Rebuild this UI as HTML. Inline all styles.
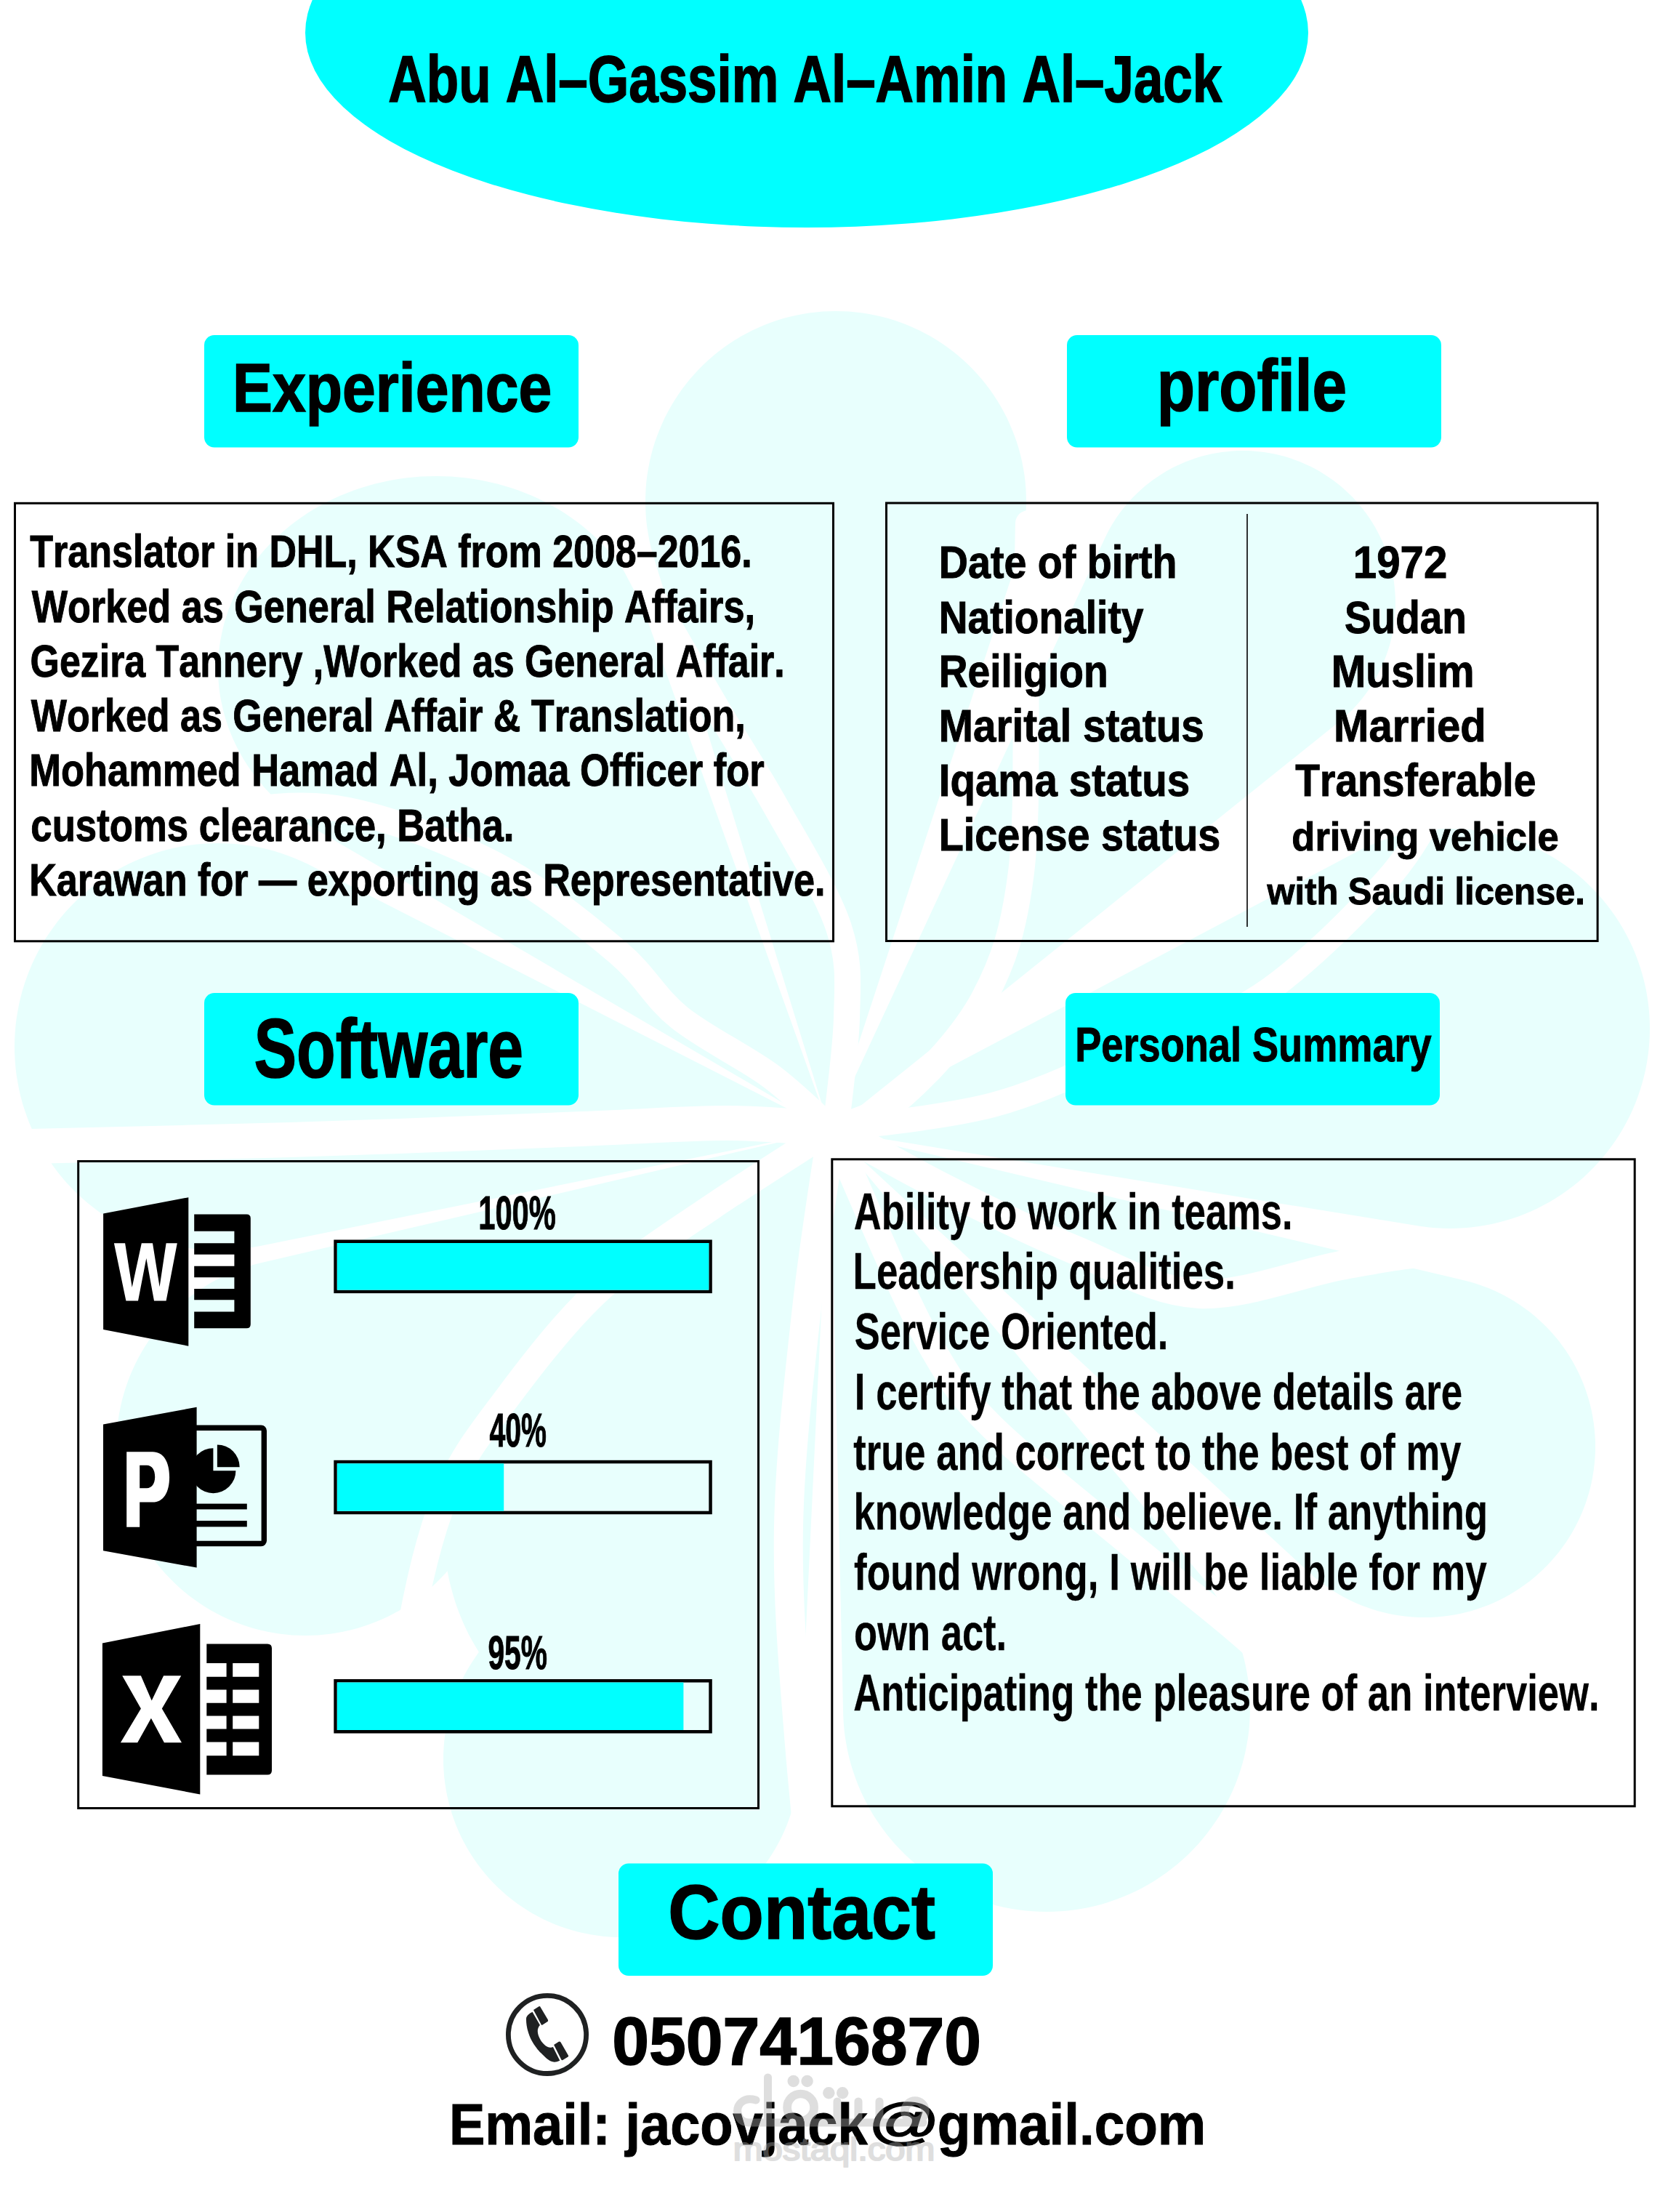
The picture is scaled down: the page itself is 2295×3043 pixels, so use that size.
<!DOCTYPE html><html><head><meta charset="utf-8"><title>CV</title><style>html,body{margin:0;padding:0;background:#fff;overflow:hidden;}svg{display:block}text{font-family:"Liberation Sans",sans-serif;font-weight:bold;font-kerning:none;white-space:pre}</style></head><body>
<svg width="2295" height="3043" viewBox="0 0 2295 3043">
<rect width="2295" height="3043" fill="#fff"/>
<g fill="#e8fffd">
<path d="M888.0 690.0 L888.2 680.9 L888.6 671.7 L889.4 662.6 L890.5 653.5 L892.0 644.5 L893.7 635.5 L895.8 626.6 L898.1 617.8 L900.8 609.0 L903.8 600.4 L907.1 591.9 L910.7 583.4 L914.5 575.1 L918.7 567.0 L923.1 559.0 L927.8 551.2 L932.8 543.5 L938.0 536.0 L943.5 528.7 L949.3 521.6 L955.3 514.7 L961.5 508.0 L968.0 501.5 L974.7 495.3 L981.6 489.3 L988.7 483.5 L996.0 478.0 L1003.5 472.8 L1011.2 467.8 L1019.0 463.1 L1027.0 458.7 L1035.1 454.5 L1043.4 450.7 L1051.9 447.1 L1060.4 443.8 L1069.0 440.8 L1077.8 438.1 L1086.6 435.8 L1095.5 433.7 L1104.5 432.0 L1113.5 430.5 L1122.6 429.4 L1131.7 428.6 L1140.9 428.2 L1150.0 428.0 L1159.1 428.2 L1168.3 428.6 L1177.4 429.4 L1186.5 430.5 L1195.5 432.0 L1204.5 433.7 L1213.4 435.8 L1222.2 438.1 L1231.0 440.8 L1239.6 443.8 L1248.1 447.1 L1256.6 450.7 L1264.9 454.5 L1273.0 458.7 L1281.0 463.1 L1288.8 467.8 L1296.5 472.8 L1304.0 478.0 L1311.3 483.5 L1318.4 489.3 L1325.3 495.3 L1332.0 501.5 L1338.5 508.0 L1344.7 514.7 L1350.7 521.6 L1356.5 528.7 L1362.0 536.0 L1367.2 543.5 L1372.2 551.2 L1376.9 559.0 L1381.3 567.0 L1385.5 575.1 L1389.3 583.4 L1392.9 591.9 L1396.2 600.4 L1399.2 609.0 L1401.9 617.8 L1404.2 626.6 L1406.3 635.5 L1408.0 644.5 L1409.5 653.5 L1410.6 662.6 L1411.4 671.7 L1411.8 680.9 L1412.0 690.0 L1411.8 699.1 L1411.4 708.3 L1410.6 717.4 L1409.5 726.5 L1408.0 735.5 L1406.3 744.5 L1404.2 753.4 L1401.9 762.2 L1399.2 771.0 L1142.0 1555.0 L900.8 771.0 L898.1 762.2 L895.8 753.4 L893.7 744.5 L892.0 735.5 L890.5 726.5 L889.4 717.4 L888.6 708.3 L888.2 699.1 Z"/>
<path d="M1142.0 1555.0 L1521.3 737.9 L1524.6 731.4 L1528.1 725.0 L1531.9 718.7 L1535.9 712.6 L1540.1 706.6 L1544.5 700.7 L1549.1 695.0 L1553.9 689.5 L1558.9 684.1 L1564.1 678.9 L1569.5 673.9 L1575.0 669.1 L1580.7 664.5 L1586.6 660.1 L1592.6 655.9 L1598.7 651.9 L1605.0 648.1 L1611.4 644.6 L1617.9 641.3 L1624.6 638.2 L1631.3 635.3 L1638.2 632.7 L1645.1 630.3 L1652.1 628.1 L1659.2 626.2 L1666.3 624.6 L1673.5 623.2 L1680.8 622.0 L1688.0 621.2 L1695.4 620.5 L1702.7 620.1 L1710.0 620.0 L1717.3 620.1 L1724.6 620.5 L1732.0 621.2 L1739.2 622.0 L1746.5 623.2 L1753.7 624.6 L1760.8 626.2 L1767.9 628.1 L1774.9 630.3 L1781.8 632.7 L1788.7 635.3 L1795.4 638.2 L1802.1 641.3 L1808.6 644.6 L1815.0 648.1 L1821.3 651.9 L1827.4 655.9 L1833.4 660.1 L1839.3 664.5 L1845.0 669.1 L1850.5 673.9 L1855.9 678.9 L1861.1 684.1 L1866.1 689.5 L1870.9 695.0 L1875.5 700.7 L1879.9 706.6 L1884.1 712.6 L1888.1 718.7 L1891.9 725.0 L1895.4 731.4 L1898.7 737.9 L1901.8 744.6 L1904.7 751.3 L1907.3 758.2 L1909.7 765.1 L1911.9 772.1 L1913.8 779.2 L1915.4 786.3 L1916.8 793.5 L1918.0 800.8 L1918.8 808.0 L1919.5 815.4 L1919.9 822.7 L1920.0 830.0 L1919.9 837.3 L1919.5 844.6 L1918.8 852.0 L1918.0 859.2 L1916.8 866.5 L1915.4 873.7 L1913.8 880.8 L1911.9 887.9 L1909.7 894.9 L1907.3 901.8 L1904.7 908.7 L1901.8 915.4 L1898.7 922.1 L1895.4 928.6 L1891.9 935.0 L1888.1 941.3 L1884.1 947.4 L1879.9 953.4 L1875.5 959.3 L1870.9 965.0 L1866.1 970.5 L1861.1 975.9 L1855.9 981.1 L1850.5 986.1 L1845.0 990.9 L1839.3 995.5 Z"/>
<path d="M1142.0 1555.0 L1865.9 1172.2 L1874.4 1167.8 L1883.1 1163.8 L1892.0 1160.0 L1900.9 1156.6 L1910.0 1153.5 L1919.2 1150.7 L1928.5 1148.2 L1937.8 1146.0 L1947.2 1144.2 L1956.7 1142.7 L1966.3 1141.5 L1975.8 1140.7 L1985.4 1140.2 L1995.0 1140.0 L2004.6 1140.2 L2014.2 1140.7 L2023.7 1141.5 L2033.3 1142.7 L2042.8 1144.2 L2052.2 1146.0 L2061.5 1148.2 L2070.8 1150.7 L2080.0 1153.5 L2089.1 1156.6 L2098.0 1160.0 L2106.9 1163.8 L2115.6 1167.8 L2124.1 1172.2 L2132.5 1176.8 L2140.7 1181.8 L2148.8 1187.0 L2156.6 1192.5 L2164.3 1198.3 L2171.8 1204.3 L2179.0 1210.6 L2186.0 1217.2 L2192.8 1224.0 L2199.4 1231.0 L2205.7 1238.2 L2211.7 1245.7 L2217.5 1253.4 L2223.0 1261.2 L2228.2 1269.3 L2233.2 1277.5 L2237.8 1285.9 L2242.2 1294.4 L2246.2 1303.1 L2250.0 1312.0 L2253.4 1320.9 L2256.5 1330.0 L2259.3 1339.2 L2261.8 1348.5 L2264.0 1357.8 L2265.8 1367.2 L2267.3 1376.7 L2268.5 1386.3 L2269.3 1395.8 L2269.8 1405.4 L2270.0 1415.0 L2269.8 1424.6 L2269.3 1434.2 L2268.5 1443.7 L2267.3 1453.3 L2265.8 1462.8 L2264.0 1472.2 L2261.8 1481.5 L2259.3 1490.8 L2256.5 1500.0 L2253.4 1509.1 L2250.0 1518.0 L2246.2 1526.9 L2242.2 1535.6 L2237.8 1544.1 L2233.2 1552.5 L2228.2 1560.7 L2223.0 1568.8 L2217.5 1576.6 L2211.7 1584.3 L2205.7 1591.8 L2199.4 1599.0 L2192.8 1606.0 L2186.0 1612.8 L2179.0 1619.4 L2171.8 1625.7 L2164.3 1631.7 L2156.6 1637.5 L2148.8 1643.0 L2140.7 1648.2 L2132.5 1653.2 L2124.1 1657.8 L2115.6 1662.2 L2106.9 1666.2 L2098.0 1670.0 L2089.1 1673.4 L2080.0 1676.5 L2070.8 1679.3 L2061.5 1681.8 L2052.2 1684.0 L2042.8 1685.8 L2033.3 1687.3 L2023.7 1688.5 L2014.2 1689.3 L2004.6 1689.8 L1995.0 1690.0 L1985.4 1689.8 L1975.8 1689.3 L1966.3 1688.5 L1956.7 1687.3 L1947.2 1685.8 Z"/>
<path d="M1142.0 1555.0 L2008.9 1760.1 L2016.9 1762.0 L2024.8 1764.1 L2032.6 1766.5 L2040.4 1769.2 L2048.0 1772.1 L2055.6 1775.3 L2063.0 1778.8 L2070.3 1782.5 L2077.5 1786.5 L2084.5 1790.7 L2091.4 1795.2 L2098.1 1799.9 L2104.7 1804.8 L2111.1 1810.0 L2117.2 1815.4 L2123.2 1821.0 L2129.0 1826.8 L2134.6 1832.8 L2140.0 1838.9 L2145.2 1845.3 L2150.1 1851.9 L2154.8 1858.6 L2159.3 1865.5 L2163.5 1872.5 L2167.5 1879.7 L2171.2 1887.0 L2174.7 1894.4 L2177.9 1902.0 L2180.8 1909.6 L2183.5 1917.4 L2185.9 1925.2 L2188.0 1933.1 L2189.9 1941.1 L2191.4 1949.2 L2192.7 1957.3 L2193.7 1965.4 L2194.4 1973.6 L2194.9 1981.8 L2195.0 1990.0 L2194.9 1998.2 L2194.4 2006.4 L2193.7 2014.6 L2192.7 2022.7 L2191.4 2030.8 L2189.9 2038.9 L2188.0 2046.9 L2185.9 2054.8 L2183.5 2062.6 L2180.8 2070.4 L2177.9 2078.0 L2174.7 2085.6 L2171.2 2093.0 L2167.5 2100.3 L2163.5 2107.5 L2159.3 2114.5 L2154.8 2121.4 L2150.1 2128.1 L2145.2 2134.7 L2140.0 2141.1 L2134.6 2147.2 L2129.0 2153.2 L2123.2 2159.0 L2117.2 2164.6 L2111.1 2170.0 L2104.7 2175.2 L2098.1 2180.1 L2091.4 2184.8 L2084.5 2189.3 L2077.5 2193.5 L2070.3 2197.5 L2063.0 2201.2 L2055.6 2204.7 L2048.0 2207.9 L2040.4 2210.8 L2032.6 2213.5 L2024.8 2215.9 L2016.9 2218.0 L2008.9 2219.9 L2000.8 2221.4 L1992.7 2222.7 L1984.6 2223.7 L1976.4 2224.4 L1968.2 2224.9 L1960.0 2225.0 L1951.8 2224.9 L1943.6 2224.4 L1935.4 2223.7 L1927.3 2222.7 L1919.2 2221.4 L1911.1 2219.9 L1903.1 2218.0 L1895.2 2215.9 L1887.4 2213.5 L1879.6 2210.8 L1872.0 2207.9 L1864.4 2204.7 L1857.0 2201.2 L1849.7 2197.5 L1842.5 2193.5 L1835.5 2189.3 L1828.6 2184.8 L1821.9 2180.1 L1815.3 2175.2 L1808.9 2170.0 L1802.8 2164.6 Z"/>
<path d="M1142.0 1555.0 L1654.5 2170.0 L1660.6 2177.6 L1666.5 2185.4 L1672.1 2193.4 L1677.5 2201.6 L1682.5 2210.0 L1687.2 2218.5 L1691.7 2227.3 L1695.8 2236.1 L1699.6 2245.1 L1703.1 2254.2 L1706.3 2263.5 L1709.2 2272.8 L1711.7 2282.3 L1713.9 2291.8 L1715.7 2301.4 L1717.3 2311.0 L1718.5 2320.7 L1719.3 2330.5 L1719.8 2340.2 L1720.0 2350.0 L1719.8 2359.8 L1719.3 2369.5 L1718.5 2379.3 L1717.3 2389.0 L1715.7 2398.6 L1713.9 2408.2 L1711.7 2417.7 L1709.2 2427.2 L1706.3 2436.5 L1703.1 2445.8 L1699.6 2454.9 L1695.8 2463.9 L1691.7 2472.7 L1687.2 2481.5 L1682.5 2490.0 L1677.5 2498.4 L1672.1 2506.6 L1666.5 2514.6 L1660.6 2522.4 L1654.5 2530.0 L1648.1 2537.4 L1641.4 2544.5 L1634.5 2551.4 L1627.4 2558.1 L1620.0 2564.5 L1612.4 2570.6 L1604.6 2576.5 L1596.6 2582.1 L1588.4 2587.5 L1580.0 2592.5 L1571.5 2597.2 L1562.7 2601.7 L1553.9 2605.8 L1544.9 2609.6 L1535.8 2613.1 L1526.5 2616.3 L1517.2 2619.2 L1507.7 2621.7 L1498.2 2623.9 L1488.6 2625.7 L1479.0 2627.3 L1469.3 2628.5 L1459.5 2629.3 L1449.8 2629.8 L1440.0 2630.0 L1430.2 2629.8 L1420.5 2629.3 L1410.7 2628.5 L1401.0 2627.3 L1391.4 2625.7 L1381.8 2623.9 L1372.3 2621.7 L1362.8 2619.2 L1353.5 2616.3 L1344.2 2613.1 L1335.1 2609.6 L1326.1 2605.8 L1317.3 2601.7 L1308.5 2597.2 L1300.0 2592.5 L1291.6 2587.5 L1283.4 2582.1 L1275.4 2576.5 L1267.6 2570.6 L1260.0 2564.5 L1252.6 2558.1 L1245.5 2551.4 L1238.6 2544.5 L1231.9 2537.4 L1225.5 2530.0 L1219.4 2522.4 L1213.5 2514.6 L1207.9 2506.6 L1202.5 2498.4 L1197.5 2490.0 L1192.8 2481.5 L1188.3 2472.7 L1184.2 2463.9 L1180.4 2454.9 L1176.9 2445.8 L1173.7 2436.5 L1170.8 2427.2 L1168.3 2417.7 L1166.1 2408.2 L1164.3 2398.6 L1162.7 2389.0 L1161.5 2379.3 L1160.7 2369.5 L1160.2 2359.8 Z"/>
<path d="M610.0 2420.0 L610.1 2411.4 L610.6 2402.9 L611.3 2394.4 L612.4 2385.9 L613.7 2377.5 L615.4 2369.1 L617.3 2360.7 L619.5 2352.5 L622.0 2344.3 L624.8 2336.2 L627.8 2328.2 L631.2 2320.3 L634.8 2312.6 L638.7 2305.0 L642.8 2297.5 L647.2 2290.2 L651.9 2283.0 L1142.0 1555.0 L1099.9 2428.6 L1099.4 2437.1 L1098.7 2445.6 L1097.6 2454.1 L1096.3 2462.5 L1094.6 2470.9 L1092.7 2479.3 L1090.5 2487.5 L1088.0 2495.7 L1085.2 2503.8 L1082.2 2511.8 L1078.8 2519.7 L1075.2 2527.4 L1071.3 2535.0 L1067.2 2542.5 L1062.8 2549.8 L1058.1 2557.0 L1053.2 2564.0 L1048.1 2570.8 L1042.7 2577.5 L1037.1 2583.9 L1031.2 2590.2 L1025.2 2596.2 L1018.9 2602.1 L1012.5 2607.7 L1005.8 2613.1 L999.0 2618.2 L992.0 2623.1 L984.8 2627.8 L977.5 2632.2 L970.0 2636.3 L962.4 2640.2 L954.7 2643.8 L946.8 2647.2 L938.8 2650.2 L930.7 2653.0 L922.5 2655.5 L914.3 2657.7 L905.9 2659.6 L897.5 2661.3 L889.1 2662.6 L880.6 2663.7 L872.1 2664.4 L863.6 2664.9 L855.0 2665.0 L846.4 2664.9 L837.9 2664.4 L829.4 2663.7 L820.9 2662.6 L812.5 2661.3 L804.1 2659.6 L795.7 2657.7 L787.5 2655.5 L779.3 2653.0 L771.2 2650.2 L763.2 2647.2 L755.3 2643.8 L747.6 2640.2 L740.0 2636.3 L732.5 2632.2 L725.2 2627.8 L718.0 2623.1 L711.0 2618.2 L704.2 2613.1 L697.5 2607.7 L691.1 2602.1 L684.8 2596.2 L678.8 2590.2 L672.9 2583.9 L667.3 2577.5 L661.9 2570.8 L656.8 2564.0 L651.9 2557.0 L647.2 2549.8 L642.8 2542.5 L638.7 2535.0 L634.8 2527.4 L631.2 2519.7 L627.8 2511.8 L624.8 2503.8 L622.0 2495.7 L619.5 2487.5 L617.3 2479.3 L615.4 2470.9 L613.7 2462.5 L612.4 2454.1 L611.3 2445.6 L610.6 2437.1 L610.1 2428.6 Z"/>
<path d="M160.0 1990.0 L160.2 1980.9 L160.6 1971.9 L161.4 1962.8 L162.5 1953.8 L163.9 1944.9 L165.7 1935.9 L167.7 1927.1 L170.1 1918.3 L172.7 1909.7 L175.7 1901.1 L178.9 1892.6 L182.5 1884.2 L186.3 1876.0 L190.4 1867.9 L194.8 1860.0 L199.5 1852.2 L204.5 1844.6 L209.7 1837.2 L215.1 1829.9 L220.8 1822.9 L226.8 1816.0 L233.0 1809.4 L239.4 1803.0 L246.0 1796.8 L252.9 1790.8 L259.9 1785.1 L267.2 1779.7 L274.6 1774.5 L282.2 1769.5 L290.0 1764.8 L297.9 1760.4 L306.0 1756.3 L314.2 1752.5 L322.6 1748.9 L331.1 1745.7 L339.7 1742.7 L348.3 1740.1 L357.1 1737.7 L1142.0 1555.0 L619.2 2157.1 L613.2 2164.0 L607.0 2170.6 L600.6 2177.0 L594.0 2183.2 L587.1 2189.2 L580.1 2194.9 L572.8 2200.3 L565.4 2205.5 L557.8 2210.5 L550.0 2215.2 L542.1 2219.6 L534.0 2223.7 L525.8 2227.5 L517.4 2231.1 L508.9 2234.3 L500.3 2237.3 L491.7 2239.9 L482.9 2242.3 L474.1 2244.3 L465.1 2246.1 L456.2 2247.5 L447.2 2248.6 L438.1 2249.4 L429.1 2249.8 L420.0 2250.0 L410.9 2249.8 L401.9 2249.4 L392.8 2248.6 L383.8 2247.5 L374.9 2246.1 L365.9 2244.3 L357.1 2242.3 L348.3 2239.9 L339.7 2237.3 L331.1 2234.3 L322.6 2231.1 L314.2 2227.5 L306.0 2223.7 L297.9 2219.6 L290.0 2215.2 L282.2 2210.5 L274.6 2205.5 L267.2 2200.3 L259.9 2194.9 L252.9 2189.2 L246.0 2183.2 L239.4 2177.0 L233.0 2170.6 L226.8 2164.0 L220.8 2157.1 L215.1 2150.1 L209.7 2142.8 L204.5 2135.4 L199.5 2127.8 L194.8 2120.0 L190.4 2112.1 L186.3 2104.0 L182.5 2095.8 L178.9 2087.4 L175.7 2078.9 L172.7 2070.3 L170.1 2061.7 L167.7 2052.9 L165.7 2044.1 L163.9 2035.1 L162.5 2026.2 L161.4 2017.2 L160.6 2008.1 L160.2 1999.1 Z"/>
<path d="M610.0 2100.0 L610.1 2090.2 L610.6 2080.5 L611.3 2070.7 L612.2 2061.0 L613.5 2051.4 L615.0 2041.8 L616.8 2032.3 L618.9 2022.8 L621.3 2013.5 L623.9 2004.2 L626.7 1995.1 L629.9 1986.1 L633.3 1977.3 L636.9 1968.5 L640.8 1960.0 L644.9 1951.6 L649.3 1943.4 L653.9 1935.4 L658.8 1927.6 L663.8 1920.0 L669.1 1912.6 L674.6 1905.5 L680.2 1898.6 L686.1 1891.9 L692.2 1885.5 L698.4 1879.4 L704.8 1873.5 L711.4 1867.9 L718.1 1862.5 L1142.0 1555.0 L1067.8 2139.0 L1066.5 2148.6 L1065.0 2158.2 L1063.2 2167.7 L1061.1 2177.2 L1058.7 2186.5 L1056.1 2195.8 L1053.3 2204.9 L1050.1 2213.9 L1046.7 2222.7 L1043.1 2231.5 L1039.2 2240.0 L1035.1 2248.4 L1030.7 2256.6 L1026.1 2264.6 L1021.2 2272.4 L1016.2 2280.0 L1010.9 2287.4 L1005.4 2294.5 L999.8 2301.4 L993.9 2308.1 L987.8 2314.5 L981.6 2320.6 L975.2 2326.5 L968.6 2332.1 L961.9 2337.5 L955.0 2342.5 L948.0 2347.2 L940.8 2351.7 L933.5 2355.8 L926.2 2359.6 L918.7 2363.1 L911.1 2366.3 L903.4 2369.2 L895.6 2371.7 L887.8 2373.9 L879.9 2375.7 L872.0 2377.3 L864.0 2378.5 L856.0 2379.3 L848.0 2379.8 L840.0 2380.0 L832.0 2379.8 L824.0 2379.3 L816.0 2378.5 L808.0 2377.3 L800.1 2375.7 L792.2 2373.9 L784.4 2371.7 L776.6 2369.2 L768.9 2366.3 L761.3 2363.1 L753.8 2359.6 L746.5 2355.8 L739.2 2351.7 L732.0 2347.2 L725.0 2342.5 L718.1 2337.5 L711.4 2332.1 L704.8 2326.5 L698.4 2320.6 L692.2 2314.5 L686.1 2308.1 L680.2 2301.4 L674.6 2294.5 L669.1 2287.4 L663.8 2280.0 L658.8 2272.4 L653.9 2264.6 L649.3 2256.6 L644.9 2248.4 L640.8 2240.0 L636.9 2231.5 L633.3 2222.7 L629.9 2213.9 L626.7 2204.9 L623.9 2195.8 L621.3 2186.5 L618.9 2177.2 L616.8 2167.7 L615.0 2158.2 L613.5 2148.6 L612.2 2139.0 L611.3 2129.3 L610.6 2119.5 L610.1 2109.8 Z"/>
<path d="M20.0 1440.0 L20.2 1430.2 L20.7 1420.5 L21.5 1410.7 L22.7 1401.0 L24.3 1391.4 L26.1 1381.8 L28.3 1372.3 L30.8 1362.8 L33.7 1353.5 L36.9 1344.2 L40.4 1335.1 L44.2 1326.1 L48.3 1317.3 L52.8 1308.5 L57.5 1300.0 L62.5 1291.6 L67.9 1283.4 L73.5 1275.4 L79.4 1267.6 L85.5 1260.0 L91.9 1252.6 L98.6 1245.5 L105.5 1238.6 L112.6 1231.9 L120.0 1225.5 L127.6 1219.4 L135.4 1213.5 L143.4 1207.9 L151.6 1202.5 L160.0 1197.5 L168.5 1192.8 L177.3 1188.3 L186.1 1184.2 L195.1 1180.4 L204.2 1176.9 L213.5 1173.7 L222.8 1170.8 L232.3 1168.3 L241.8 1166.1 L251.4 1164.3 L261.0 1162.7 L270.7 1161.5 L280.5 1160.7 L290.2 1160.2 L300.0 1160.0 L309.8 1160.2 L319.5 1160.7 L329.3 1161.5 L339.0 1162.7 L348.6 1164.3 L358.2 1166.1 L367.7 1168.3 L377.2 1170.8 L386.5 1173.7 L395.8 1176.9 L404.9 1180.4 L413.9 1184.2 L422.7 1188.3 L1142.0 1555.0 L358.2 1713.9 L348.6 1715.7 L339.0 1717.3 L329.3 1718.5 L319.5 1719.3 L309.8 1719.8 L300.0 1720.0 L290.2 1719.8 L280.5 1719.3 L270.7 1718.5 L261.0 1717.3 L251.4 1715.7 L241.8 1713.9 L232.3 1711.7 L222.8 1709.2 L213.5 1706.3 L204.2 1703.1 L195.1 1699.6 L186.1 1695.8 L177.3 1691.7 L168.5 1687.2 L160.0 1682.5 L151.6 1677.5 L143.4 1672.1 L135.4 1666.5 L127.6 1660.6 L120.0 1654.5 L112.6 1648.1 L105.5 1641.4 L98.6 1634.5 L91.9 1627.4 L85.5 1620.0 L79.4 1612.4 L73.5 1604.6 L67.9 1596.6 L62.5 1588.4 L57.5 1580.0 L52.8 1571.5 L48.3 1562.7 L44.2 1553.9 L40.4 1544.9 L36.9 1535.8 L33.7 1526.5 L30.8 1517.2 L28.3 1507.7 L26.1 1498.2 L24.3 1488.6 L22.7 1479.0 L21.5 1469.3 L20.7 1459.5 L20.2 1449.8 Z"/>
<path d="M300.0 920.0 L300.2 910.8 L300.7 901.5 L301.6 892.3 L302.9 883.1 L304.6 874.0 L306.6 864.9 L308.9 855.9 L311.6 847.0 L314.7 838.1 L318.1 829.4 L321.8 820.7 L325.9 812.2 L330.4 803.8 L335.1 795.6 L340.2 787.5 L345.6 779.6 L351.3 771.8 L357.3 764.2 L363.6 756.8 L370.2 749.7 L377.1 742.7 L384.2 735.9 L391.6 729.4 L399.3 723.1 L407.2 717.0 L415.3 711.2 L423.7 705.6 L432.2 700.3 L441.0 695.3 L450.0 690.5 L459.2 686.0 L468.5 681.8 L478.0 677.9 L487.6 674.3 L497.4 671.0 L507.3 668.0 L517.3 665.3 L527.4 662.9 L537.6 660.8 L547.9 659.0 L558.2 657.6 L568.6 656.5 L579.1 655.6 L589.5 655.2 L600.0 655.0 L610.5 655.2 L620.9 655.6 L631.4 656.5 L641.8 657.6 L652.1 659.0 L662.4 660.8 L672.6 662.9 L682.7 665.3 L692.7 668.0 L702.6 671.0 L712.4 674.3 L722.0 677.9 L731.5 681.8 L740.8 686.0 L750.0 690.5 L759.0 695.3 L767.8 700.3 L776.3 705.6 L784.7 711.2 L792.8 717.0 L800.7 723.1 L808.4 729.4 L815.8 735.9 L822.9 742.7 L829.8 749.7 L836.4 756.8 L842.7 764.2 L848.7 771.8 L854.4 779.6 L859.8 787.5 L864.9 795.6 L869.6 803.8 L874.1 812.2 L878.2 820.7 L881.9 829.4 L885.3 838.1 L1142.0 1555.0 L432.2 1139.7 L423.7 1134.4 L415.3 1128.8 L407.2 1123.0 L399.3 1116.9 L391.6 1110.6 L384.2 1104.1 L377.1 1097.3 L370.2 1090.3 L363.6 1083.2 L357.3 1075.8 L351.3 1068.2 L345.6 1060.4 L340.2 1052.5 L335.1 1044.4 L330.4 1036.2 L325.9 1027.8 L321.8 1019.3 L318.1 1010.6 L314.7 1001.9 L311.6 993.0 L308.9 984.1 L306.6 975.1 L304.6 966.0 L302.9 956.9 L301.6 947.7 L300.7 938.5 L300.2 929.2 Z"/>
</g>
<g fill="none" stroke="#fff" stroke-linecap="round" stroke-linejoin="round">
<path d="M1150 1553 C1152 1528 1164 1446 1165 1400 C1166 1354 1170 1325 1154 1276 C1138 1227 1094 1157 1066 1107 C1038 1057 1017 1027 986 974 C955 921 904 834 880 788 C856 742 847 715 840 700" stroke-width="36"/>
<path d="M1143 1553 C1129 1541 1095 1506 1060 1480 C1025 1454 970 1428 935 1400 C900 1372 889 1343 850 1310 C811 1277 755 1231 700 1200 C645 1169 573 1140 520 1125 C467 1110 433 1106 380 1110 C327 1114 230 1143 200 1150" stroke-width="36"/>
<path d="M1143 1553 C1119 1552 1057 1545 1000 1545 C943 1545 900 1549 800 1553 C700 1557 533 1564 400 1568 C267 1572 67 1576 0 1578" stroke-width="48"/>
<path d="M1150 1553 C1166 1545 1209 1536 1243 1506 C1277 1476 1327 1424 1354 1373 C1381 1322 1395 1279 1405 1200 C1415 1121 1410 980 1412 900 C1414 820 1414 750 1415 720" stroke-width="36"/>
<path d="M1150 1553 C1186 1548 1297 1538 1366 1520 C1435 1502 1501 1467 1562 1442 C1623 1417 1677 1408 1734 1370 C1791 1332 1860 1264 1906 1213 C1952 1162 1975 1105 2007 1061 C2039 1017 2084 968 2100 950" stroke-width="34"/>
<path d="M1150 1553 C1175 1567 1245 1607 1300 1635 C1355 1663 1422 1696 1480 1720 C1538 1744 1588 1777 1650 1780 C1712 1783 1792 1750 1850 1740 C1908 1730 1925 1725 2000 1720 C2075 1715 2250 1712 2300 1710" stroke-width="40"/>
<path d="M1145 1553 C1154 1574 1178 1630 1200 1680 C1222 1730 1253 1803 1280 1850 C1307 1897 1317 1915 1362 1960 C1407 2005 1488 2068 1550 2120 C1612 2172 1681 2222 1731 2269 C1781 2316 1830 2378 1850 2400" stroke-width="36"/>
<path d="M1145 1553 C1139 1594 1120 1709 1110 1800 C1100 1891 1087 2000 1085 2100 C1083 2200 1092 2300 1100 2400 C1108 2500 1125 2650 1130 2700" stroke-width="40"/>
<path d="M1145 1553 C1118 1571 1033 1624 980 1660 C927 1696 874 1729 827 1772 C780 1815 736 1872 700 1920 C664 1968 635 2003 612 2060 C589 2117 572 2196 561 2261 C550 2326 548 2418 545 2450" stroke-width="36"/>
</g>
<ellipse cx="1110" cy="45" rx="690" ry="268" fill="#00ffff"/>
<rect x="281.0" y="461.0" width="515" height="154.5" rx="14" fill="#00ffff"/>
<rect x="1468.0" y="461.0" width="515" height="154.5" rx="14" fill="#00ffff"/>
<rect x="281.0" y="1366.0" width="515" height="154.5" rx="14" fill="#00ffff"/>
<rect x="1466.0" y="1366.0" width="515" height="154.5" rx="14" fill="#00ffff"/>
<rect x="851.0" y="2563.5" width="515" height="154.5" rx="14" fill="#00ffff"/>
<g fill="none" stroke="#000" stroke-width="3">
<rect x="20.5" y="692.3" width="1126" height="602.5"/>
<rect x="1219.5" y="692" width="978.6" height="602.5"/>
<rect x="107.7" y="1597.5" width="935.8" height="890"/>
<rect x="1144.8" y="1594.8" width="1104.4" height="890"/>
</g>
<rect x="1715.2" y="707" width="1.6" height="568" fill="#000"/>
<rect x="461.55" y="1707.75" width="516" height="69.10" fill="#e8fffd" stroke="#000" stroke-width="4.5"/>
<rect x="463.8" y="1710.00" width="511.50" height="64.60" fill="#00ffff"/>
<rect x="461.55" y="2011.05" width="516" height="69.90" fill="#e8fffd" stroke="#000" stroke-width="4.5"/>
<rect x="463.8" y="2013.30" width="229.40" height="65.40" fill="#00ffff"/>
<rect x="461.55" y="2312.25" width="516" height="70.00" fill="#e8fffd" stroke="#000" stroke-width="4.5"/>
<rect x="463.8" y="2314.50" width="476.60" height="65.50" fill="#00ffff"/>
<g transform="translate(130,1640)">
<path d="M12.1 29.6 L129.3 7.2 L129.3 211.7 L12.1 188.9 Z" fill="#000"/>
<path d="M137.2 30.6 H209.3 Q214.8 30.6 214.8 36.1 V181.8 Q214.8 187.3 209.3 187.3 H137.2 Z M137.2 53.8 V70.3 H192.4 V53.8 Z M137.2 85.8 V101.8 H192.4 V85.8 Z M137.2 117.2 V133.1 H192.4 V117.2 Z M137.2 148.2 V164.4 H192.4 V148.2 Z" fill="#000" fill-rule="evenodd"/>
<path d="M26.9 70.3 L42.1 70.3 L51.7 131 L64.8 70.3 L80 70.3 L89.6 130.3 L98.6 70.3 L113.8 70.3 L98.6 149.6 L82 149.6 L71.3 91 L60 149.6 L43.4 149.6 Z" fill="#fff"/>
</g>
<g transform="translate(130,1925)">
<rect x="122" y="39.25" width="111.3" height="159.3" rx="4" fill="none" stroke="#000" stroke-width="7.4"/>
<path d="M163.4 98.2 L163.4 67.2 A31 31 0 1 0 194.4 98.2 Z" fill="#000"/>
<path d="M168.9 93.2 L168.9 62.4 A30.8 30.8 0 0 1 199.7 93.2 Z" fill="#000"/>
<rect x="135" y="143.6" width="74.8" height="7.8" fill="#000"/>
<rect x="135" y="167.1" width="74.8" height="8.3" fill="#000"/>
<path d="M12 34.5 L140.6 10.8 L140.6 231.6 L12 208.3 Z" fill="#000"/>
<path d="M44.2 72.2 L80 72.2 C95 72.2 103.1 86 103.1 106.9 C103.1 128 95 141.6 80 141.6 L62.2 141.6 L62.2 175.7 L44.2 175.7 Z M62.2 90.7 L72 90.7 C79 90.7 83.2 97 83.2 106.5 C83.2 116 79 122.2 72 122.2 L62.2 122.2 Z" fill="#fff" fill-rule="evenodd"/>
</g>
<g transform="translate(130,2225)">
<path d="M10.9 35.5 L145.3 9 L145.3 243.5 L10.9 217.9 Z" fill="#000"/>
<path d="M154.3 36.6 H238 Q244 36.6 244 42.6 V210.4 Q244 216.4 238 216.4 H154.3 Z M154.3 63.1 V81.8 H181.6 V63.1 Z M190.2 63.1 V81.8 H226.3 V63.1 Z M154.3 99.5 V117.7 H181.6 V99.5 Z M190.2 99.5 V117.7 H226.3 V99.5 Z M154.3 135.6 V153.5 H181.6 V135.6 Z M190.2 135.6 V153.5 H226.3 V135.6 Z M154.3 171.5 V190.2 H181.6 V171.5 Z M190.2 171.5 V190.2 H226.3 V171.5 Z" fill="#000" fill-rule="evenodd"/>
<path d="M38.2 80.3 L63.9 80.3 L78.7 114.6 L95.1 80.3 L119.3 80.3 L92.8 125.5 L120 172.3 L95.9 172.3 L77.9 138.7 L59.2 172.3 L35.9 172.3 L63.9 125.5 Z" fill="#fff"/>
</g>
<g transform="translate(690,2735)" fill="#1f2122">
<circle cx="63" cy="63.9" r="53.6" fill="none" stroke="#1f2122" stroke-width="6.8"/>
<path d="M42.5 32.7 C38 35 34.3 38 34 42 C33.8 50 35.5 60 41.3 71.7 C46 80 50 85 54.6 89.6 C60 95 64 99 67.8 100.5 C71 102 75 102.3 80.3 99.8 L70.9 81.1 C69.5 81.8 68 82 67 81.8 C63 81 61 79.5 59.2 77.9 C56 75 54 72.5 53 70.1 C51 66 50 63 49.9 60.8 C49.6 58 50 56 50.7 54.6 C51.3 53 52 52 53 51.1 Z"/>
<path d="M44 30 L51.4 25.3 Q53 24.6 53.8 26.5 L63.9 43.6 Q64.6 45.3 63.5 46 L56.1 50.7 Q55 51.2 54.6 49.9 Z"/>
<path d="M72.1 77.9 L78.7 73.7 Q80.5 73 81.5 74.4 L92 92.7 Q92.6 94 91.2 94.7 L84.2 99 Q83 99.5 82.2 98.2 Z"/>
</g>
<text x="534.29" y="140.00" font-size="90.77" textLength="1146.84" lengthAdjust="spacingAndGlyphs" fill="#000" stroke="#000" stroke-width="1.60">Abu Al–Gassim Al–Amin Al–Jack</text>
<text x="320.10" y="566.00" font-size="94.15" textLength="439.12" lengthAdjust="spacingAndGlyphs" fill="#000" stroke="#000" stroke-width="1.60">Experience</text>
<text x="1591.66" y="565.20" font-size="100.00" textLength="261.36" lengthAdjust="spacingAndGlyphs" fill="#000" stroke="#000" stroke-width="1.60">profile</text>
<text x="349.47" y="1481.90" font-size="114.99" textLength="370.73" lengthAdjust="spacingAndGlyphs" fill="#000" stroke="#000" stroke-width="1.60">Software</text>
<text x="1479.28" y="1460.20" font-size="66.35" textLength="490.41" lengthAdjust="spacingAndGlyphs" fill="#000" stroke="#000" stroke-width="1.00">Personal Summary</text>
<text x="919.25" y="2667.00" font-size="105.34" textLength="367.66" lengthAdjust="spacingAndGlyphs" fill="#000" stroke="#000" stroke-width="1.60">Contact</text>
<text x="41.32" y="779.60" font-size="62.42" textLength="993.36" lengthAdjust="spacingAndGlyphs" fill="#000" stroke="#000" stroke-width="1.00">Translator in DHL, KSA from 2008–2016.</text>
<text x="43.65" y="855.50" font-size="62.42" textLength="995.34" lengthAdjust="spacingAndGlyphs" fill="#000" stroke="#000" stroke-width="1.00">Worked as General Relationship Affairs,</text>
<text x="41.57" y="930.50" font-size="62.42" textLength="1038.10" lengthAdjust="spacingAndGlyphs" fill="#000" stroke="#000" stroke-width="1.00">Gezira Tannery ,Worked as General Affair.</text>
<text x="42.85" y="1006.20" font-size="62.42" textLength="982.83" lengthAdjust="spacingAndGlyphs" fill="#000" stroke="#000" stroke-width="1.00">Worked as General Affair &amp; Translation,</text>
<text x="40.19" y="1081.30" font-size="62.42" textLength="1011.50" lengthAdjust="spacingAndGlyphs" fill="#000" stroke="#000" stroke-width="1.00">Mohammed Hamad Al, Jomaa Officer for</text>
<text x="42.34" y="1156.80" font-size="62.42" textLength="665.09" lengthAdjust="spacingAndGlyphs" fill="#000" stroke="#000" stroke-width="1.00">customs clearance, Batha.</text>
<text x="40.21" y="1231.70" font-size="62.42" textLength="1095.28" lengthAdjust="spacingAndGlyphs" fill="#000" stroke="#000" stroke-width="1.00">Karawan for — exporting as Representative.</text>
<text x="1291.78" y="795.40" font-size="62.68" textLength="327.67" lengthAdjust="spacingAndGlyphs" fill="#000" stroke="#000" stroke-width="1.00">Date of birth</text>
<text x="1291.82" y="870.60" font-size="62.68" textLength="281.58" lengthAdjust="spacingAndGlyphs" fill="#000" stroke="#000" stroke-width="1.00">Nationality</text>
<text x="1291.81" y="945.20" font-size="62.68" textLength="232.81" lengthAdjust="spacingAndGlyphs" fill="#000" stroke="#000" stroke-width="1.00">Reiligion</text>
<text x="1291.71" y="1020.30" font-size="62.68" textLength="365.11" lengthAdjust="spacingAndGlyphs" fill="#000" stroke="#000" stroke-width="1.00">Marital status</text>
<text x="1291.72" y="1095.20" font-size="62.68" textLength="345.40" lengthAdjust="spacingAndGlyphs" fill="#000" stroke="#000" stroke-width="1.00">Iqama status</text>
<text x="1291.77" y="1169.60" font-size="62.68" textLength="387.52" lengthAdjust="spacingAndGlyphs" fill="#000" stroke="#000" stroke-width="1.00">License status</text>
<text x="1861.83" y="795.40" font-size="62.68" textLength="129.50" lengthAdjust="spacingAndGlyphs" fill="#000" stroke="#000" stroke-width="1.00">1972</text>
<text x="1849.92" y="870.60" font-size="62.68" textLength="167.99" lengthAdjust="spacingAndGlyphs" fill="#000" stroke="#000" stroke-width="1.00">Sudan</text>
<text x="1831.68" y="945.20" font-size="62.68" textLength="196.87" lengthAdjust="spacingAndGlyphs" fill="#000" stroke="#000" stroke-width="1.00">Muslim</text>
<text x="1835.12" y="1020.30" font-size="62.68" textLength="209.50" lengthAdjust="spacingAndGlyphs" fill="#000" stroke="#000" stroke-width="1.00">Married</text>
<text x="1782.28" y="1095.20" font-size="62.68" textLength="331.10" lengthAdjust="spacingAndGlyphs" fill="#000" stroke="#000" stroke-width="1.00">Transferable</text>
<text x="1777.35" y="1169.60" font-size="55.78" textLength="367.45" lengthAdjust="spacingAndGlyphs" fill="#000" stroke="#000" stroke-width="1.00">driving vehicle</text>
<text x="1743.54" y="1244.20" font-size="52.12" textLength="437.32" lengthAdjust="spacingAndGlyphs" fill="#000" stroke="#000" stroke-width="1.00">with Saudi license.</text>
<text x="1174.84" y="1690.80" font-size="69.70" textLength="603.82" lengthAdjust="spacingAndGlyphs" fill="#000" stroke="#000" stroke-width="0.30">Ability to work in teams.</text>
<text x="1173.61" y="1773.30" font-size="69.70" textLength="526.38" lengthAdjust="spacingAndGlyphs" fill="#000" stroke="#000" stroke-width="0.30">Leadership qualities.</text>
<text x="1175.64" y="1855.80" font-size="69.70" textLength="431.83" lengthAdjust="spacingAndGlyphs" fill="#000" stroke="#000" stroke-width="0.30">Service Oriented.</text>
<text x="1175.82" y="1938.60" font-size="69.70" textLength="836.24" lengthAdjust="spacingAndGlyphs" fill="#000" stroke="#000" stroke-width="0.30">I certify that the above details are</text>
<text x="1174.21" y="2021.60" font-size="69.70" textLength="836.33" lengthAdjust="spacingAndGlyphs" fill="#000" stroke="#000" stroke-width="0.30">true and correct to the best of my</text>
<text x="1174.46" y="2104.40" font-size="69.70" textLength="872.53" lengthAdjust="spacingAndGlyphs" fill="#000" stroke="#000" stroke-width="0.30">knowledge and believe. If anything</text>
<text x="1175.04" y="2187.20" font-size="69.70" textLength="870.69" lengthAdjust="spacingAndGlyphs" fill="#000" stroke="#000" stroke-width="0.30">found wrong, I will be liable for my</text>
<text x="1175.10" y="2269.80" font-size="69.70" textLength="210.07" lengthAdjust="spacingAndGlyphs" fill="#000" stroke="#000" stroke-width="0.30">own act.</text>
<text x="1174.24" y="2352.60" font-size="69.70" textLength="1026.43" lengthAdjust="spacingAndGlyphs" fill="#000" stroke="#000" stroke-width="0.30">Anticipating the pleasure of an interview.</text>
<text x="658.28" y="1690.60" font-size="64.64" textLength="106.52" lengthAdjust="spacingAndGlyphs" fill="#000" stroke="#000" stroke-width="1.00">100%</text>
<text x="673.41" y="1990.20" font-size="64.64" textLength="78.63" lengthAdjust="spacingAndGlyphs" fill="#000" stroke="#000" stroke-width="1.00">40%</text>
<text x="671.39" y="2295.80" font-size="64.64" textLength="81.48" lengthAdjust="spacingAndGlyphs" fill="#000" stroke="#000" stroke-width="1.00">95%</text>
<text x="842.19" y="2839.60" font-size="93.53" textLength="507.96" lengthAdjust="spacingAndGlyphs" fill="#000" stroke="#000" stroke-width="1.60">0507416870</text>
<text x="617.95" y="2950.00" font-size="79.87" textLength="575.68" lengthAdjust="spacingAndGlyphs" fill="#000" stroke="#000" stroke-width="1.00">Email: jacovjack</text>
<text x="1289.84" y="2950.00" font-size="79.87" textLength="369.39" lengthAdjust="spacingAndGlyphs" fill="#000" stroke="#000" stroke-width="1.00">gmail.com</text>
<text transform="translate(1194.87,2941.62) scale(0.9706,0.6779)" font-size="100" fill="#000" stroke="#000" stroke-width="2.5" style="font-weight:normal">@</text>
<g opacity="0.4" fill="#aeaeae" stroke="#aeaeae">
<text x="1008.75" y="2971.5" font-size="44.30" textLength="277.48" lengthAdjust="spacingAndGlyphs" stroke-width="2.2" stroke-linejoin="round" style="font-weight:normal">mostaql.com</text>
<g fill="none" stroke-width="11" stroke-linecap="round" stroke-linejoin="round">
<path d="M1056.5 2858 V2919"/>
<path d="M1040 2889 C1022 2884 1013 2896 1015 2907 C1017 2916 1022 2920 1030 2920 H1270"/>
<circle cx="1101.6" cy="2899" r="18.5" stroke-width="11.7"/>
<circle cx="1259" cy="2904" r="14" stroke-width="11.5"/>
<path d="M1152 2891 V2918 M1181 2891 V2918 M1210 2891 V2918"/>
</g>
<g stroke="none">
<circle cx="1091.7" cy="2863.0" r="8.2"/>
<circle cx="1110.6" cy="2863.0" r="8.2"/>
<circle cx="1140.3" cy="2879.2" r="8.2"/>
<circle cx="1159.2" cy="2879.2" r="8.2"/>
</g>
</g>
</svg></body></html>
